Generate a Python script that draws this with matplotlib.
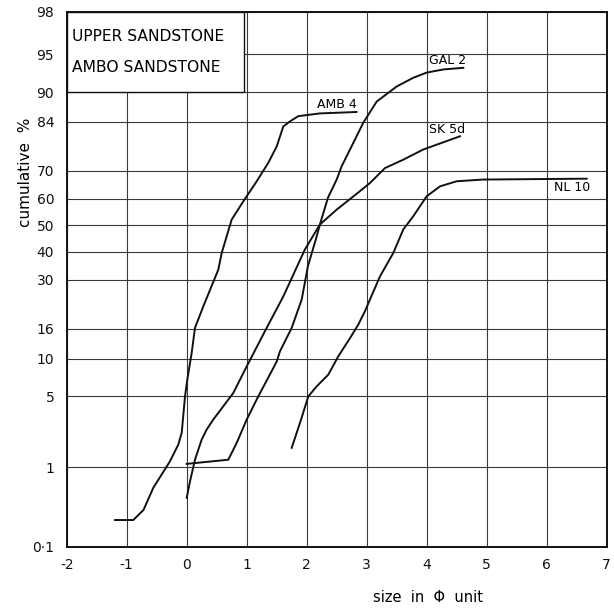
import math
import numpy as np
import matplotlib
matplotlib.use("Agg")
import matplotlib.pyplot as plt
from matplotlib.ticker import FixedLocator, FixedFormatter
from matplotlib.patches import Rectangle

# ---------------- data ----------------
amb4_phi = [-1.195, -0.89, -0.72, -0.557, -0.333, -0.28, -0.14, -0.083, -0.028, 0.01, 0.083,
            0.138, 0.277, 0.527, 0.583, 0.75, 0.943, 1.167, 1.36, 1.5, 1.61, 1.72, 1.86, 2.22, 2.83]
amb4_pct = [0.23, 0.23, 0.31, 0.58, 1.02, 1.16, 1.75, 2.31, 5.0, 6.9, 11.0,
            16.2, 21.8, 33.5, 39.5, 52.2, 59.1, 66.4, 72.6, 77.6, 82.9, 84.1, 85.3, 85.9, 86.2]

gal2_phi = [0.0, 0.693, 0.833, 1.0, 1.193, 1.5, 1.555, 1.75, 1.917, 2.02, 2.167, 2.22, 2.355,
            2.5, 2.583, 2.777, 2.943, 3.167, 3.5, 3.777, 4.0, 4.277, 4.61]
gal2_pct = [1.09, 1.21, 1.82, 3.09, 5.0, 9.5, 11.3, 16.2, 23.8, 34.7, 45.8, 50.3, 60.5,
            67.0, 71.5, 78.6, 83.8, 88.3, 90.9, 92.2, 92.9, 93.3, 93.5]

sk5d_phi = [0.0, 0.055, 0.138, 0.25, 0.333, 0.443, 0.777, 1.0, 1.333, 1.61, 1.97, 2.22, 2.5,
            2.855, 3.055, 3.305, 3.61, 3.943, 4.555]
sk5d_pct = [0.44, 0.69, 1.21, 1.97, 2.48, 3.09, 5.35, 8.75, 16.2, 24.7, 40.8, 50.3, 56.0,
            62.3, 65.8, 70.9, 73.6, 76.7, 80.4]

nl10_phi = [1.75, 1.888, 2.027, 2.167, 2.36, 2.527, 2.722, 2.86, 2.97, 3.055, 3.222, 3.443,
            3.61, 3.777, 4.0, 4.222, 4.5, 4.94, 6.667]
nl10_pct = [1.62, 2.87, 5.0, 6.08, 7.55, 10.4, 13.9, 17.0, 20.4, 23.8, 31.2, 39.5,
            48.4, 53.5, 61.0, 64.6, 66.4, 67.0, 67.3]

curve_names = ["AMB 4", "GAL 2", "SK 5d", "NL 10"]
label_phi = [2.5, 4.35, 4.34, 6.42]
label_pct = [87.7, 94.4, 82.1, 64.2]

y_ticks = [0.1, 1, 5, 10, 16, 30, 40, 50, 60, 70, 84, 90, 95, 98]
y_ticklabels = ["0·1", "1", "5", "10", "16", "30", "40", "50", "60", "70", "84", "90", "95", "98"]
x_ticks = [-2, -1, 0, 1, 2, 3, 4, 5, 6, 7]
x_ticklabels = ["-2", "-1", "0", "1", "2", "3", "4", "5", "6", "7"]
title_lines = ["UPPER SANDSTONE", "AMBO SANDSTONE"]

# ---------------- probability scale ----------------
_z = np.linspace(-6, 6, 40001)
_p = 50.0 * (1.0 + np.vectorize(math.erf)(_z / math.sqrt(2.0)))


def fwd(p):
    p = np.asarray(p, dtype=float)
    return np.interp(p, _p, _z)


def inv(z):
    z = np.asarray(z, dtype=float)
    return np.interp(z, _z, _p)


W, H = 614, 615
fig = plt.figure(figsize=(W / 100, H / 100), dpi=100)
left, right, top, bottom = 66.7, 606.7, 11.7, 546.7
ax = fig.add_axes([left / W, 1 - bottom / H, (right - left) / W, (bottom - top) / H])
ax.set_yscale("function", functions=(fwd, inv))
ax.set_xlim(-2, 7)
ax.set_ylim(0.1, 98)

ax.yaxis.set_major_locator(FixedLocator(y_ticks))
ax.yaxis.set_major_formatter(FixedFormatter(y_ticklabels))
ax.yaxis.set_minor_locator(FixedLocator([]))
ax.xaxis.set_major_locator(FixedLocator(x_ticks))
ax.xaxis.set_major_formatter(FixedFormatter(x_ticklabels))
ax.tick_params(axis="both", length=0, labelsize=10, colors="#111111")
ax.tick_params(axis="y", pad=9)
ax.tick_params(axis="x", pad=8)

ax.set_axisbelow(True)
ax.grid(True, color="#3a3a3a", linewidth=0.8)
for s in ax.spines.values():
    s.set_linewidth(1.4)
    s.set_color("#111111")

# title box covering grid
ax.add_patch(Rectangle((-2, 90), 2.95, 8, facecolor="white", edgecolor="#111111",
                       linewidth=1.0, zorder=1.5))
ax.text(-1.91, 96.5, title_lines[0], fontsize=11.2, va="center", ha="left", zorder=3)
ax.text(-1.91, 93.6, title_lines[1], fontsize=11.2, va="center", ha="left", zorder=3)

series = [(amb4_phi, amb4_pct), (gal2_phi, gal2_pct), (sk5d_phi, sk5d_pct), (nl10_phi, nl10_pct)]
for (xs, ys) in series:
    ax.plot(xs, ys, color="#111111", linewidth=1.4, zorder=2.5)
for name, lx, ly in zip(curve_names, label_phi, label_pct):
    ax.text(lx, ly, name, fontsize=9, ha="center", va="center", zorder=3)

fig.text(26 / W, 1 - 172 / H, "cumulative  %", rotation=90, ha="center", va="center", fontsize=11)
fig.text(428 / W, 1 - 598 / H, "size  in  Φ  unit", ha="center", va="center", fontsize=10.5)

fig.savefig("out.png", dpi=100, facecolor="white")
